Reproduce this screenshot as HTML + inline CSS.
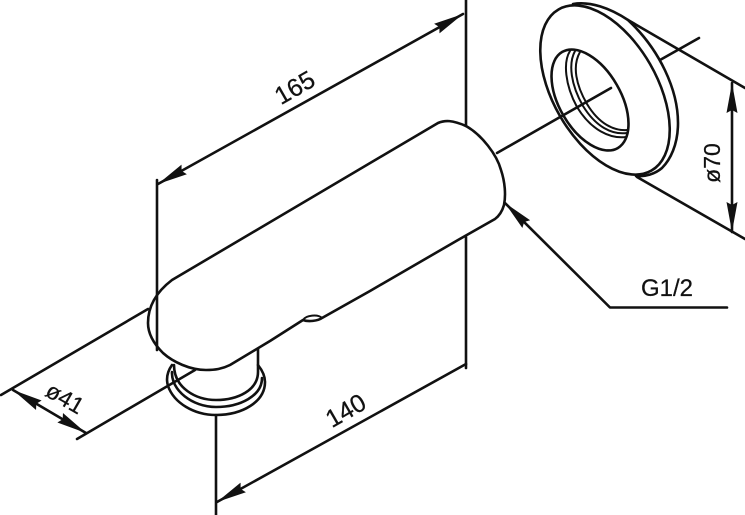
<!DOCTYPE html>
<html><head><meta charset="utf-8"><style>
html,body{margin:0;padding:0;background:#fff}
svg{display:block}
text{font-family:"Liberation Sans",sans-serif;fill:#111;stroke:#111;stroke-width:.25}
</style></head><body>
<svg width="745" height="515" viewBox="0 0 745 515" xmlns="http://www.w3.org/2000/svg">
<defs>
<marker id="a" markerUnits="userSpaceOnUse" markerWidth="32" markerHeight="14" refX="30" refY="6" orient="auto-start-reverse" viewBox="0 0 32 12">
<path d="M30 6L0 0.500L3 6L0 11.500Z" fill="#111"/>
</marker>
</defs>
<g fill="none" stroke="#111" stroke-width="2.600" stroke-linecap="round" stroke-linejoin="round">
<!-- base -->
<path d="M172 365C167 372 166 379 168 386C174 403 194 415 216 415C242 415 265 402 265 382C265 376 262 370 258 365"/>
<path d="M172 372C171 390 192 407 216 407C240 407 262 396 262 378"/>
<path d="M174 365C174 388 196 400 216 400C238 400 258 390 258 372V346"/>
<!-- washer back -->
<path d="M573 4C590 1 610 8 628 20C660 50 678 90 678 123C678 145 670 160 662 168C655 174 645 177 636 176" />
<ellipse cx="605" cy="90" rx="93" ry="52" transform="rotate(60 605 90)" fill="#fff"/>
<ellipse cx="590" cy="100" rx="55.500" ry="30.800" transform="rotate(60 590 100)"/>
<path d="M570 51C563 62 565 85 577 107C591 130 610 139 626 137" stroke-width="2"/>
<path d="M575 51C568 64 571 85 583 106C596 127 612 135 627 133" stroke-width="2"/>
<path d="M580 52C572 66 576 85 587 104C599 124 614 131 627 130" stroke-width="2"/>
<!-- body -->
<path d="M172 280L438 123C445 120 452 120 466 126C482 135 497 155 501 170C505 182 506 195 504 205C502 212 499 216 495 219L458 240L370 291L322 318C318 321 308 322 303 320L270 341L230 365C222 369 215 370 206 370C190 370 173 362 163 353C153 343 148 333 148 323C148 308 155 293 172 280Z" fill="#fff"/>
<path d="M303 320C306 315 318 314 322 318" stroke-width="2"/>
<!-- dimension lines -->
<path d="M157 180V350"/>
<path d="M466 0V126M466 237V368"/>
<path d="M216 415V515"/>
<path d="M158 184L463 14" marker-start="url(#a)" marker-end="url(#a)"/>
<path d="M217 502L466 364" marker-start="url(#a)"/>
<path d="M13 390L86 433" marker-start="url(#a)" marker-end="url(#a)"/>
<path d="M732 83V232" marker-start="url(#a)" marker-end="url(#a)"/>
<path d="M148 309L1 395"/>
<path d="M195 370L77 439"/>
<path d="M497 153L611 88"/>
<path d="M660 60L699 38"/>
<path d="M628 20L745 88"/>
<path d="M637 177L745 239"/>
<!-- leader -->
<path d="M505 203L610 307.500H727" marker-start="url(#a)"/>
</g>
<text x="641" y="296" font-size="24" textLength="52">G1/2</text>
<text transform="translate(299 95) rotate(-30)" font-size="25" text-anchor="middle">165</text>
<text transform="translate(350 418) rotate(-30)" font-size="25" text-anchor="middle">140</text>
<text transform="translate(61 405) rotate(30)" font-size="23" text-anchor="middle">ø41</text>
<text transform="translate(720 163) rotate(-90)" font-size="23" text-anchor="middle">ø70</text>
</svg>
</body></html>
